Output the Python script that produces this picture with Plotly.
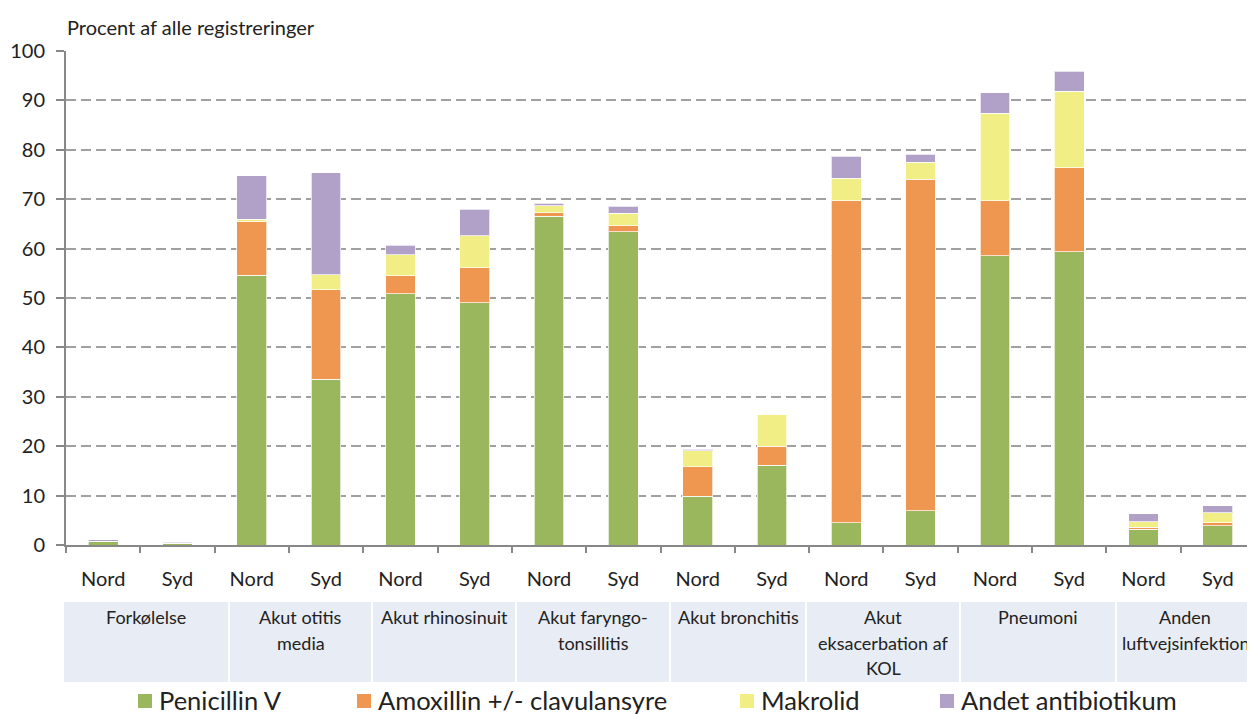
import plotly.graph_objects as go

# ---- data ----
groups = ["Forkølelse", "Akut otitis<br>media", "Akut rhinosinuit", "Akut faryngo-<br>tonsillitis",
          "Akut bronchitis", "Akut<br>eksacerbation af<br>KOL", "Pneumoni", "Anden<br>luftvejsinfektion"]
regions = ["Nord", "Syd"]
series_names = ["Penicillin V", "Amoxillin +/- clavulansyre", "Makrolid", "Andet antibiotikum"]

penicillin = [0.75, 0.35, 54.6, 33.6, 50.9, 49.0, 66.5, 63.4, 9.9, 16.1, 4.5, 6.9, 58.6, 59.4, 3.2, 3.9]
amoxillin  = [0.05, 0.05, 10.8, 18.1, 3.6, 7.1, 0.8, 1.2, 5.9, 3.9, 65.2, 67.1, 11.1, 17.0, 0.4, 0.6]
makrolid   = [0.0, 0.05, 0.5, 3.0, 4.3, 6.5, 1.4, 2.6, 3.3, 6.5, 4.5, 3.5, 17.7, 15.5, 1.1, 2.0]
andet      = [0.25, 0.25, 8.8, 20.7, 1.9, 5.4, 0.5, 1.4, 0.3, 0.0, 4.5, 1.6, 4.2, 4.0, 1.6, 1.4]

y_ticks = [0, 10, 20, 30, 40, 50, 60, 70, 80, 90, 100]
y_title = "Procent af alle registreringer"

colors = ["#9BB75D", "#EF9650", "#F2EE86", "#B1A0C7"]
FONT = "Lato"

# ---- geometry (screen pixels; the page body adds an 8px offset) ----
OFF = 8
W, H = 1255 - OFF, 714 - OFF
L, R = 66 - OFF, 0
T = 51 - OFF
BOTTOM = 545 - OFF
B = H - BOTTOM
PW, PH = W - L - R, H - T - B

def px_x(p):
    return (p - OFF - L) / PW

def px_y(p):
    return (BOTTOM - (p - OFF)) / PH

cats = [f"{g}|{r}" for g in groups for r in regions]
ticktext = [r for g in groups for r in regions]

fig = go.Figure()
for name, vals, col in zip(series_names, [penicillin, amoxillin, makrolid, andet], colors):
    fig.add_trace(go.Bar(x=cats, y=vals, name=name,
                         marker=dict(color=col, line=dict(color="rgba(255,255,255,0.7)", width=1)),
                         showlegend=False))

fig.update_layout(
    barmode="stack", bargap=0.6,
    width=W, height=H,
    margin=dict(l=L, r=R, t=T, b=B, autoexpand=False),
    paper_bgcolor="white", plot_bgcolor="white",
    font=dict(family=FONT, color="#222222"),
)
fig.update_yaxes(range=[0, 100], tickvals=y_ticks, showgrid=True, gridcolor="#A0A0A0", griddash="10px,5px", gridwidth=2,
                 showline=True, linecolor="#888888", linewidth=2, ticks="outside", ticklen=8, tickcolor="#888888",
                 tickwidth=2, tickfont=dict(size=20, family=FONT, color="#222222"), ticklabelstandoff=7,
                 zeroline=False)
fig.update_xaxes(type="category", categoryorder="array", categoryarray=cats, tickvals=cats, ticktext=ticktext,
                 tickson="boundaries", ticks="outside", ticklen=6, tickcolor="#888888", tickwidth=2,
                 showline=True, linecolor="#888888", linewidth=2,
                 tickfont=dict(size=20, family=FONT, color="#222222"), ticklabelstandoff=15)

# y-axis title
fig.add_annotation(text=y_title, xref="paper", yref="paper", x=px_x(65), y=px_y(27), xanchor="left", yanchor="middle",
                   showarrow=False, font=dict(size=20, family=FONT, color="#222222"))

# category table
bounds = [63, 229, 372, 516, 670, 806, 960, 1116, 1262]
for i, g in enumerate(groups):
    x0, x1 = bounds[i] + 1, bounds[i + 1] - 1
    fig.add_shape(type="rect", xref="paper", yref="paper", x0=px_x(x0), x1=px_x(x1), y0=px_y(602), y1=px_y(682),
                  fillcolor="#E8ECF4", line=dict(width=0), layer="below")
    cx = (x0 + x1) / 2 if i < len(groups) - 1 else 1185
    for j, line in enumerate(g.split("<br>")):
        fig.add_annotation(text=line, xref="paper", yref="paper", x=px_x(cx), y=px_y(617 + 25.5 * j),
                           xanchor="center", yanchor="middle", showarrow=False,
                           font=dict(size=18, family=FONT, color="#222222"))

# legend (manual)
leg_x = [138, 357, 740, 940]
for name, col, lx in zip(series_names, colors, leg_x):
    fig.add_shape(type="rect", xref="paper", yref="paper", x0=px_x(lx), x1=px_x(lx + 14), y0=px_y(694), y1=px_y(708),
                  fillcolor=col, line=dict(width=0))
    fig.add_annotation(text=name, xref="paper", yref="paper", x=px_x(lx + 19), y=px_y(700), xanchor="left",
                       yanchor="middle", showarrow=False, font=dict(size=25.5, family=FONT, color="#222222"))

fig.write_html("out.html")
